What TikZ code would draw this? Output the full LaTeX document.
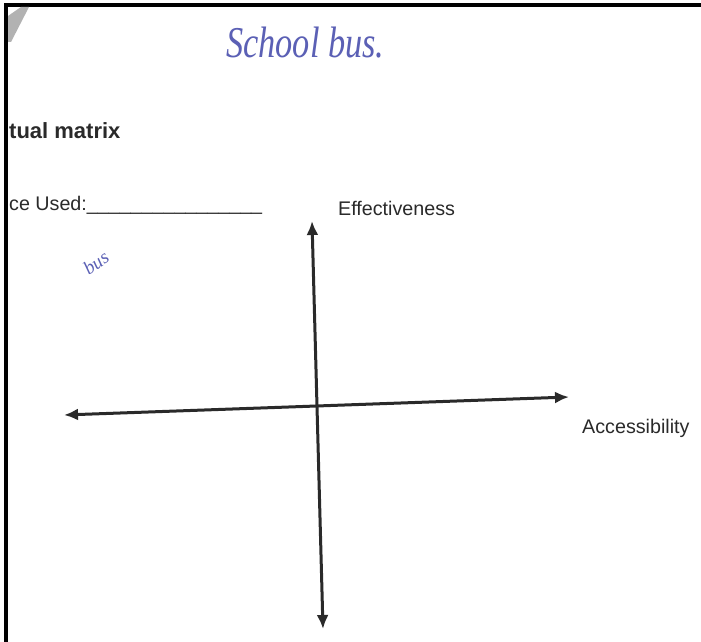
\documentclass[tikz,border=0pt]{standalone}
\usepackage{fontspec}
\setmainfont{Liberation Sans}
\newfontfamily\handfont{Liberation Serif}
\usepackage{xcolor}
\usetikzlibrary{positioning, arrows.meta}
\definecolor{ink}{HTML}{5B60B5}
\definecolor{print}{HTML}{2A2A2A}

\begin{document}
\begin{tikzpicture}[x=1pt, y=-1pt,
    lbl/.style={anchor=base west, inner sep=0pt, text=print,
                font=\fontsize{19.7}{22}\selectfont},
    hand/.style={inner sep=0pt, text=ink},
    axis/.style={{Latex[length=14pt, width=12pt]}-{Latex[length=14pt, width=12pt]},
                 line width=3pt, draw=print}
  ]
  \useasboundingbox[fill=white] (0,0) rectangle (701,642);
  % edge of the scanned sheet
  \draw[line width=4pt] (6,642) -- (6,5) -- (701,5);
  \fill[gray!60] (8,16) -- (21,7) -- (29,7) -- (11,42) -- (8,42) -- cycle;

  \node[hand, anchor=base west, xscale=0.78,
        font=\handfont\itshape\fontsize{44}{48}\selectfont]
    (title) at (226,57) {School bus.};
  \node[lbl, font=\bfseries\fontsize{22}{25}\selectfont] (heading) at (9,138) {tual matrix};
  \node[lbl] (used) at (9,210) {ce Used:\_\_\_\_\_\_\_\_\_\_\_\_\_\_\_\_};
  \node[hand, rotate=35, font=\handfont\itshape\fontsize{19}{21}\selectfont]
    (note) at (96,263) {bus};
  \node[lbl] (yname) at (338,215) {Effectiveness};
  \node[lbl] (xname) at (582,433) {Accessibility};

  % the two axes
  \coordinate (west)  at (64,415);
  \coordinate (east)  at (569,397);
  \coordinate (north) at (312,221);
  \coordinate (south) at (323,629);
  \draw[axis] (west) -- (east);
  \draw[axis] (south) -- (north);
\end{tikzpicture}
\end{document}
